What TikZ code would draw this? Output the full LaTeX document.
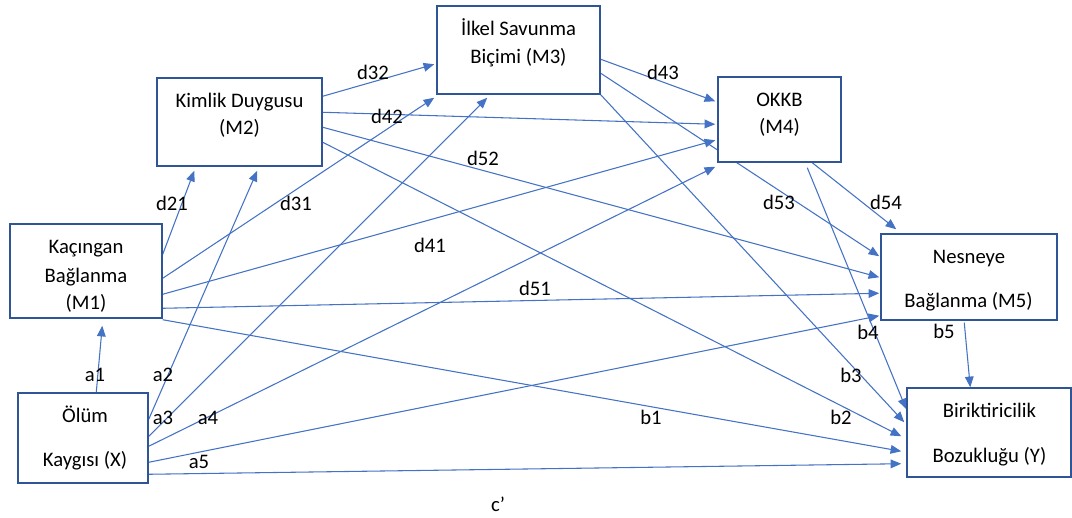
\documentclass[tikz,border=0pt]{standalone}
\usepackage{fontspec}
\setmainfont{Carlito}
\usetikzlibrary{calc,arrows.meta}
\definecolor{linec}{HTML}{4472C4}
\definecolor{boxc}{HTML}{2F5597}
\pgfdeclarelayer{bg}
\pgfsetlayers{bg,main}
\begin{document}
\begin{tikzpicture}[x=0.75pt,y=-0.75pt,
  box/.style={draw=boxc, line width=1.1pt, fill=white, inner sep=0pt},
  txt/.style={font=\fontsize{15.5pt}{18pt}\selectfont, inner sep=0pt, anchor=base, text=black},
  lbl/.style={font=\fontsize{15.5pt}{18pt}\selectfont, inner sep=0pt, text=black},
  arr/.style={draw=linec, line width=0.8pt, -{Triangle[length=8pt,width=6.5pt]}},
  ln/.style={draw=linec, line width=0.8pt}]
\useasboundingbox (0,0) rectangle (1072,518);
% boxes
\node[box, minimum width=123.75pt, minimum height=66pt] (m2) at (239.5,122) {};
\node[box, minimum width=122.25pt, minimum height=66pt] (m3) at (518.5,50) {};
\node[box, minimum width=92.25pt, minimum height=63.75pt] (m4) at (779.5,119.5) {};
\node[box, minimum width=114pt, minimum height=70.5pt] (m1) at (86,271) {};
\node[box, minimum width=97.5pt, minimum height=67.5pt] (x) at (83,438) {};
\node[box, minimum width=132pt, minimum height=64.5pt] (m5) at (969,277) {};
\node[box, minimum width=123pt, minimum height=66.75pt] (y) at (989,432.5) {};
% box texts
\node[txt] (t2a) at (239.5,107) {Kimlik Duygusu};
\node[txt] (t2b) at (239.5,134) {(M2)};
\node[txt] (t3a) at (518.5,35) {İlkel Savunma};
\node[txt] (t3b) at (518.5,63) {Biçimi (M3)};
\node[txt] (t4a) at (779.5,106) {OKKB};
\node[txt] (t4b) at (779.5,133) {(M4)};
\node[txt] (t1a) at (86,253) {Kaçıngan};
\node[txt] (t1b) at (86,282) {Bağlanma};
\node[txt] (t1c) at (86,309) {(M1)};
\node[txt] (txa) at (85,422) {Ölüm};
\node[txt] (txb) at (85,466) {Kaygısı (X)};
\node[txt] (t5a) at (969,263) {Nesneye};
\node[txt] (t5b) at (968.5,307) {Bağlanma (M5)};
\node[txt] (tya) at (989.5,417) {Biriktiricilik};
\node[txt] (tyb) at (989.5,462) {Bozukluğu (Y)};
\begin{pgfonlayer}{bg}
% from X
\draw[arr] ($(x.north west)+(79,0)$) -- ($(m1.south west)+(93,7)$);
\draw[arr] ($(x.north east)+(0,27)$) -- ($(m2.south west)+(101,4)$);
\draw[arr] ($(x.north east)+(0,44)$) -- ($(m3.south west)+(51,3)$);
\draw[arr] ($(x.north east)+(0,54)$) -- ($(m4.south west)+(-2,4)$);
\draw[arr] ($(x.north east)+(0,70)$) -- ($(m5.south west)+(-1,-5)$);
\draw[arr] ($(x.north east)+(0,82)$) -- ($(y.south west)+(-5,-14)$);
% from M1
\draw[arr] ($(m1.north east)+(0,31)$) -- ($(m2.south west)+(38,4)$);
\draw[arr] ($(m1.north east)+(0,55)$) -- ($(m3.south west)+(-2,3)$);
\draw[arr] ($(m1.north east)+(0,71)$) -- ($(m4.north west)+(-2,64)$);
\draw[arr] ($(m1.north east)+(0,85)$) -- ($(m5.north west)+(-1,60)$);
\draw[arr] ($(m1.south east)+(0,1)$) -- ($(y.north west)+(-5,64)$);
% from M2
\draw[arr] ($(m2.north east)+(0,19)$) -- ($(m3.north west)+(-2,59)$);
\draw[arr] ($(m2.north east)+(0,35)$) -- ($(m4.north west)+(-2,48)$);
\draw[arr] ($(m2.north east)+(0,50)$) -- ($(m5.north west)+(-1,44)$);
\draw[arr] ($(m2.north east)+(0,65)$) -- ($(y.north west)+(-5,49)$);
% from M3
\draw[arr] ($(m3.north east)+(0,54)$) -- ($(m4.north west)+(-2,25)$);
\draw[arr] ($(m3.north east)+(0,68)$) -- ($(m5.north west)+(-1,23)$);
\draw[arr] (m3.south east) -- ($(y.north west)+(-2,35)$);
% from M4
\draw[arr] ($(m4.south west)+(95,0)$) -- ($(m5.north west)+(16,-4)$);
\draw[arr] ($(m4.south west)+(90,5)$) -- ($(y.north west)+(0,22)$);
% from M5
\draw[arr] ($(m5.south west)+(84,2)$) -- ($(y.north west)+(64,0)$);
\end{pgfonlayer}
% labels
\node[lbl] (ld32) at (373,72) {d32};
\node[lbl] (ld42) at (387,116) {d42};
\node[lbl] (ld52) at (483,158) {d52};
\node[lbl] (ld21) at (172,203) {d21};
\node[lbl] (ld31) at (296,203) {d31};
\node[lbl] (ld41) at (430,245) {d41};
\node[lbl] (ld51) at (535,288) {d51};
\node[lbl] (ld43) at (663,72) {d43};
\node[lbl] (ld53) at (779,202) {d53};
\node[lbl] (ld54) at (886,202) {d54};
\node[lbl] (lb4) at (868,332) {b4};
\node[lbl] (lb5) at (944,331) {b5};
\node[lbl] (lb3) at (851,375) {b3};
\node[lbl] (lb2) at (841,417) {b2};
\node[lbl] (lb1) at (651,417) {b1};
\node[lbl] (la1) at (95,375) {a1};
\node[lbl] (la2) at (163,375) {a2};
\node[lbl] (la3) at (163,418) {a3};
\node[lbl] (la4) at (208,418) {a4};
\node[lbl] (la5) at (199,462) {a5};
\node[lbl] (lc) at (498,504) {c’};
\end{tikzpicture}
\end{document}
